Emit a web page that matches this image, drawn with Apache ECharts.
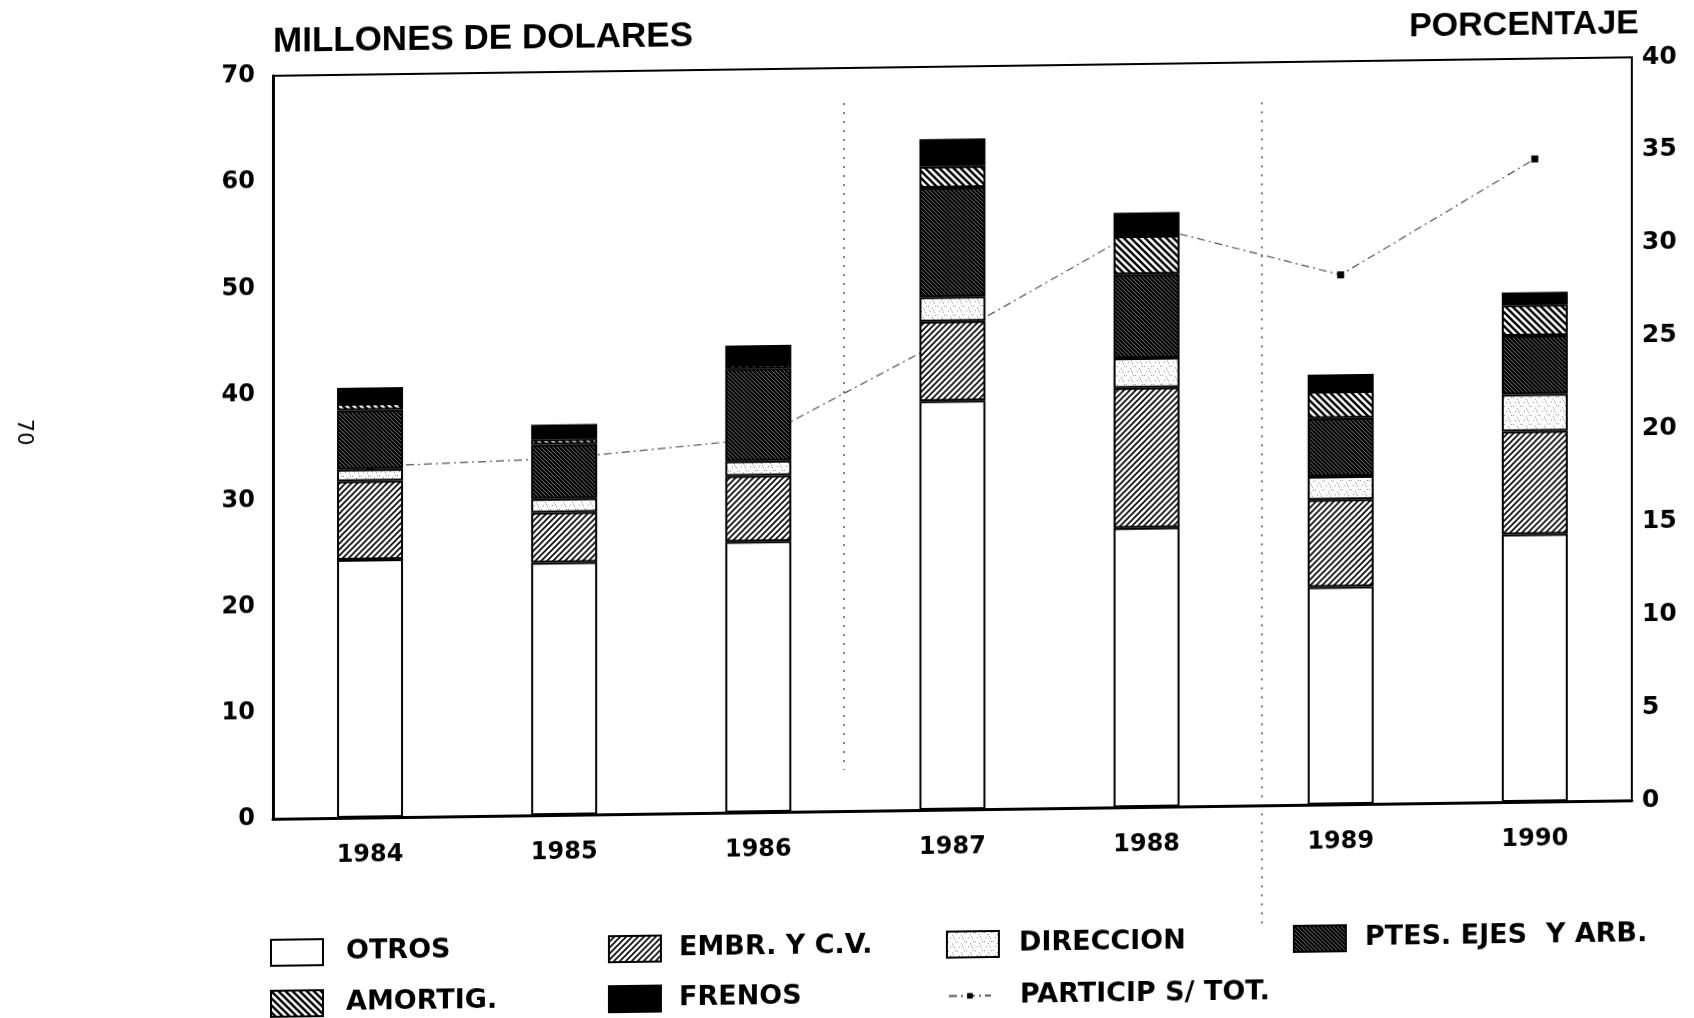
<!DOCTYPE html>
<html>
<head>
<meta charset="utf-8">
<script src="https://cdn.jsdelivr.net/npm/echarts@6/dist/echarts.min.js"></script>
<style>
  html, body { margin: 0; background: #fff; overflow: hidden; }
  /* la hoja escaneada esta apenas torcida */
  #main { width: 1694px; height: 1018px; transform: skewY(-0.78deg); transform-origin: 847px 509px; }
</style>
</head>
<body>
<div id="main"></div>
<script>
// datos
const years = ['1984', '1985', '1986', '1987', '1988', '1989', '1990'];
const otros = [24.3, 23.8, 25.5, 38.5, 26.3, 20.5, 25.2];
const embr = [7.4, 4.7, 6.2, 7.5, 13.2, 8.2, 9.7];
const direccion = [1.1, 1.3, 1.4, 2.3, 2.8, 2.2, 3.5];
const ptes = [5.6, 5.1, 8.7, 10.3, 7.9, 5.5, 5.5];
const amortig = [0.6, 0.5, 0.4, 2.0, 3.6, 2.5, 2.9];
const frenos = [1.5, 1.4, 1.8, 2.6, 2.2, 1.6, 1.2];
const particip = [18.9, 19.2, 20.1, 25.5, 31.3, 28.5, 34.6];

const FONT = 'DejaVu Sans';
const TITLE_FONT = 'Liberation Sans';

// tramas
function hatch(dir, gap, lw) {
  const c = document.createElement('canvas');
  c.width = gap; c.height = gap;
  const ctx = c.getContext('2d');
  ctx.fillStyle = '#fff';
  ctx.fillRect(0, 0, gap, gap);
  ctx.strokeStyle = '#000';
  ctx.lineWidth = lw;
  ctx.beginPath();
  if (dir === '/') {
    ctx.moveTo(-1, gap + 1); ctx.lineTo(gap + 1, -1);
    ctx.moveTo(-1, 1); ctx.lineTo(1, -1);
    ctx.moveTo(gap - 1, gap + 1); ctx.lineTo(gap + 1, gap - 1);
  } else {
    ctx.moveTo(-1, -1); ctx.lineTo(gap + 1, gap + 1);
    ctx.moveTo(gap - 1, -1); ctx.lineTo(gap + 1, 1);
    ctx.moveTo(-1, gap - 1); ctx.lineTo(1, gap + 1);
  }
  ctx.stroke();
  return { image: c, repeat: 'repeat' };
}

function stipple() {
  const c = document.createElement('canvas');
  c.width = 9; c.height = 9;
  const ctx = c.getContext('2d');
  ctx.fillStyle = '#fff';
  ctx.fillRect(0, 0, 9, 9);
  ctx.fillStyle = '#8a8a8a';
  [[1, 1], [5, 3], [3, 6], [7, 7], [8, 1], [6, 5]].forEach(p => ctx.fillRect(p[0], p[1], 1, 1));
  return { image: c, repeat: 'repeat' };
}

const fills = {
  otros: '#fff',
  embr: hatch('/', 6, 1.6),
  direccion: stipple(),
  ptes: hatch('\\', 4, 2.5),
  amortig: hatch('\\', 7, 2.4),
  frenos: '#000'
};

function barSeries(name, data, fill) {
  return {
    name: name,
    type: 'bar',
    stack: 'total',
    barWidth: 66,
    data: data,
    z: 3,
    itemStyle: { color: fill, borderColor: '#000', borderWidth: 2 }
  };
}

function legendAt(name, left, top, gap) {
  return {
    data: [{ name: name, icon: 'rect' }],
    left: left,
    top: top,
    padding: 0,
    itemWidth: 52,
    itemHeight: 26,
    selectedMode: false,
    textStyle: { fontFamily: FONT, fontWeight: 'bold', fontSize: 27, color: '#000', padding: [0, 0, 0, gap] }
  };
}

// pliegues del papel escaneado
function fold(x, y1, y2) {
  return {
    type: 'line',
    silent: true,
    shape: { x1: x, y1: y1, x2: x, y2: y2 },
    style: { stroke: '#555', lineWidth: 1.5, lineDash: [2, 7] }
  };
}

const chart = echarts.init(document.getElementById('main'));

chart.setOption({
  backgroundColor: '#fff',
  animation: false,
  grid: {
    left: 273, right: 62, top: 68, bottom: 207,
    show: true, borderColor: '#000', borderWidth: 2,
    containLabel: false, outerBoundsMode: 'none'
  },
  legend: [
    legendAt('OTROS', 270, 931, 18),
    legendAt('EMBR. Y C.V.', 608, 932, 13),
    legendAt('DIRECCION', 946, 932, 15),
    legendAt('PTES. EJES  Y ARB.', 1293, 931, 14),
    legendAt('AMORTIG.', 270, 982, 18),
    legendAt('FRENOS', 608, 982, 13),
    {
      data: ['PARTICIP S/ TOT.'],
      left: 948,
      top: 984,
      padding: 0,
      itemWidth: 42,
      itemHeight: 7,
      selectedMode: false,
      textStyle: { fontFamily: FONT, fontWeight: 'bold', fontSize: 27, color: '#000', padding: [0, 0, 0, 24] }
    }
  ],
  xAxis: {
    type: 'category',
    data: years,
    axisLine: { lineStyle: { color: '#000', width: 3 } },
    axisTick: { show: false },
    axisLabel: { margin: 26, fontFamily: FONT, fontWeight: 'bold', fontSize: 24, color: '#000' }
  },
  yAxis: [
    {
      type: 'value',
      min: 0, max: 70, interval: 10,
      name: 'MILLONES DE DOLARES',
      nameLocation: 'end',
      nameGap: 34,
      nameTextStyle: { align: 'left', verticalAlign: 'middle', fontFamily: TITLE_FONT, fontWeight: 'bold', fontSize: 35, color: '#000' },
      axisLine: { show: true, lineStyle: { color: '#000', width: 3 } },
      axisTick: { show: false },
      splitLine: { show: false },
      axisLabel: { margin: 18, fontFamily: FONT, fontWeight: 'bold', fontSize: 24, color: '#000' }
    },
    {
      type: 'value',
      position: 'right',
      min: 0, max: 40, interval: 5,
      axisLine: { show: true, lineStyle: { color: '#000', width: 2 } },
      axisTick: { show: false },
      splitLine: { show: false },
      axisLabel: { margin: 10, fontFamily: FONT, fontWeight: 'bold', fontSize: 25, color: '#000' }
    }
  ],
  series: [
    barSeries('OTROS', otros, fills.otros),
    barSeries('EMBR. Y C.V.', embr, fills.embr),
    barSeries('DIRECCION', direccion, fills.direccion),
    barSeries('PTES. EJES  Y ARB.', ptes, fills.ptes),
    barSeries('AMORTIG.', amortig, fills.amortig),
    barSeries('FRENOS', frenos, fills.frenos),
    {
      name: 'PARTICIP S/ TOT.',
      type: 'line',
      yAxisIndex: 1,
      data: particip,
      z: 1,
      symbol: 'rect',
      symbolSize: 7,
      itemStyle: { color: '#000' },
      lineStyle: { color: '#555', width: 1.2, type: [8, 4, 2, 4] }
    }
  ],
  graphic: [
    {
      // titulo del eje derecho
      type: 'text',
      x: 1639, y: 35,
      style: { text: 'PORCENTAJE', fontFamily: TITLE_FONT, fontWeight: 'bold', fontSize: 34, fill: '#000', align: 'right', verticalAlign: 'middle' }
    },
    {
      // numero de pagina
      type: 'text',
      x: 23, y: 421,
      rotation: -Math.PI / 2,
      style: { text: '70', fontFamily: FONT, fontSize: 21, fill: '#000', align: 'center', verticalAlign: 'middle' }
    },
    fold(844, 103, 770),
    fold(1262, 108, 935)
  ]
});
</script>
</body>
</html>
